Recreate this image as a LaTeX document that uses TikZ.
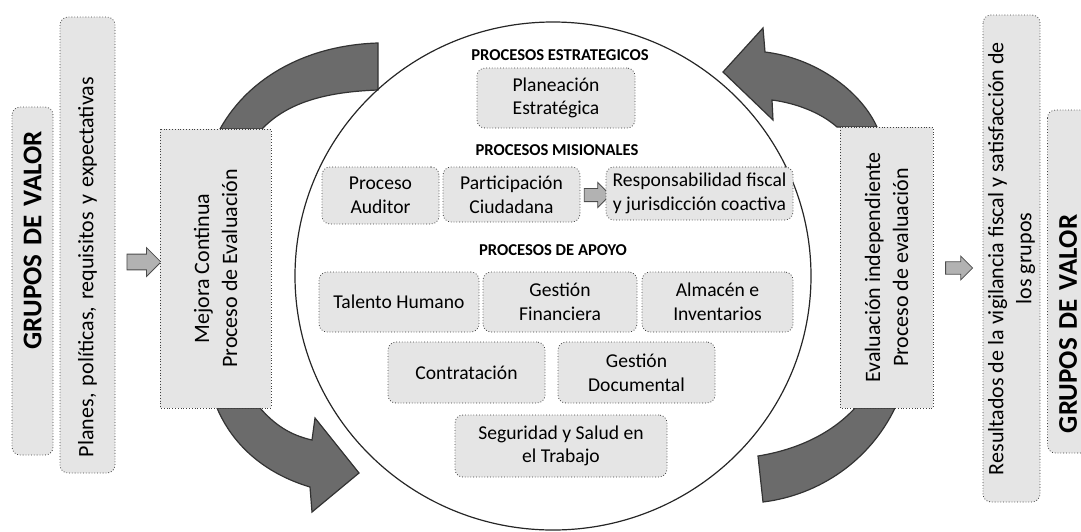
\documentclass[tikz,border=0pt]{standalone}
\usepackage{fontspec}
\setmainfont{Carlito}
\usetikzlibrary{shapes.arrows}
\begin{document}
\begin{tikzpicture}
	[x=0.5pt, y=-0.5pt,
	box/.style={draw=black!75, densely dotted, fill=black!10, rounded corners=4pt, align=center, inner sep=1pt, font=\fontsize{9.8}{11.8}\selectfont},
	side/.style={draw=black!75, densely dotted, fill=black!10, rotate=90, align=center, inner ysep=0pt, font=\fontsize{11}{14}\selectfont},
	grp/.style={font=\bfseries\fontsize{13.5}{16}\selectfont},
	head/.style={font=\bfseries\fontsize{8.3}{10}\selectfont},
	bigarr/.style={fill=black!58, draw=black!80, line width=0.6pt},
	smallarr/.style={single arrow, draw=black!70, fill=black!30, single arrow head extend=3.2pt}]
	\clip (0,0) rectangle (1081,531);
	% curved arrows round the circle
	\path[bigarr] (220,129) .. controls (250,75) and (310,45) .. (378,43) -- (378,90)
		.. controls (320,92) and (285,105) .. (262,129) -- cycle;
	\path[bigarr] (260,408) .. controls (275,425) and (290,435) .. (312,440) -- (315,418)
		-- (359,473) -- (312,512) -- (310,487) .. controls (270,475) and (235,450) .. (217,408) -- cycle;
	\path[bigarr] (837,127) .. controls (820,112) and (795,103) .. (772,100) -- (773,120)
		-- (723,72) -- (763,28) -- (765,52) .. controls (815,58) and (860,90) .. (877,127) -- cycle;
	\path[bigarr] (855,408) .. controls (830,435) and (795,450) .. (758,456) -- (763,502)
		.. controls (820,495) and (870,460) .. (895,408) -- cycle;
	\draw[black!85, line width=0.6pt] (553,276) ellipse [x radius=129pt, y radius=127pt];
	% left side
	\node[side, grp, rounded corners=4pt, minimum width=174pt, minimum height=20.5pt, inner xsep=12pt, text width=150pt, align=right] (gvl) at (32.5,281) {GRUPOS DE VALOR};
	\node[side, rounded corners=4pt, minimum width=228pt, minimum height=27.5pt, inner xsep=8pt, text width=212pt, align=left] (planes) at (87.5,245) {Planes, políticas, requisitos y expectativas};
	\node[smallarr, minimum height=17pt, minimum width=14.5pt, inner sep=3.6pt] (arrl) at (140,262) {};
	\node[side, minimum width=139.5pt, minimum height=55.5pt] (mejora) at (215.5,268.5) {Mejora Continua\\Proceso de Evaluación};
	% inside the circle
	\node[head] (hest) at (560,55) {PROCESOS ESTRATEGICOS};
	\node[box, minimum width=79pt, minimum height=30pt] (plan) at (556,98) {Planeación\\Estratégica};
	\node[head] (hmis) at (557,150) {PROCESOS MISIONALES};
	\node[box, minimum width=58.5pt, minimum height=28.5pt] (aud) at (380.5,195.5) {Proceso\\Auditor};
	\node[box, minimum width=68.5pt, minimum height=27.5pt] (part) at (511.5,194.5) {Participación\\Ciudadana};
	\node[smallarr, minimum height=13pt, minimum width=12.5pt, inner sep=3.1pt, single arrow head extend=3pt] (arrm) at (594,195) {};
	\node[box, minimum width=93.5pt, minimum height=26.5pt] (resp) at (699.5,193.5) {Responsabilidad fiscal\\y jurisdicción coactiva};
	\node[head] (hapo) at (553,250) {PROCESOS DE APOYO};
	\node[box, minimum width=80pt, minimum height=30pt] (tal) at (399,302) {Talento Humano};
	\node[box, minimum width=77pt, minimum height=30pt] (fin) at (560,302) {Gestión\\Financiera};
	\node[box, minimum width=75.5pt, minimum height=30pt] (alm) at (717.5,302) {Almacén e\\Inventarios};
	\node[box, minimum width=78.5pt, minimum height=30.5pt] (con) at (466.5,372.5) {Contratación};
	\node[box, minimum width=78.5pt, minimum height=30.5pt] (doc) at (636.5,372.5) {Gestión\\Documental};
	\node[box, minimum width=106pt, minimum height=31pt] (seg) at (561,446) {Seguridad y Salud en\\el Trabajo};
	% right side
	\node[side, minimum width=140.5pt, minimum height=46.5pt] (eval) at (886.5,267.5) {Evaluación independiente\\Proceso de evaluación};
	\node[smallarr, minimum height=13.5pt, minimum width=11.5pt, inner sep=2.9pt, single arrow head extend=2.8pt] (arrr) at (956,268) {};
	\node[side, rounded corners=4pt, minimum width=243.5pt, minimum height=28.5pt] (res) at (1011.5,258.5) {Resultados de la vigilancia fiscal y satisfacción de\\los grupos};
	\node[side, grp, rounded corners=4pt, minimum width=171.5pt, minimum height=20.5pt, inner xsep=10pt, text width=151.5pt, align=left] (gvr) at (1068,281.5) {GRUPOS DE VALOR};
\end{tikzpicture}
\end{document}
